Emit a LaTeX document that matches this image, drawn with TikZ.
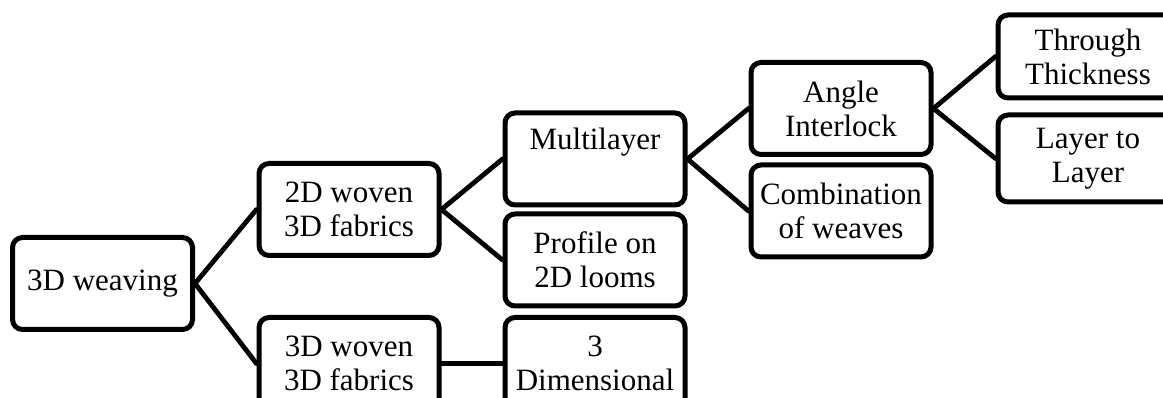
\documentclass[tikz,border=0pt]{standalone}
\usepackage{fontspec}
\setmainfont{Liberation Serif}
\begin{document}
\begin{tikzpicture}[x=1pt,y=-1pt,
  box/.style={draw=black, line width=5pt, rounded corners=10pt, fill=white,
    align=center, inner sep=0pt, minimum width=180pt, minimum height=92pt,
    font=\fontsize{31}{34}\selectfont},
  link/.style={line width=4.8pt, line cap=round}]
\useasboundingbox (0,0) rectangle (1163,398);
\clip (0,0) rectangle (1163,398);
\node[box] (weave) at (102.5,283.5) {3D weaving};
\node[box] (w2d) at (349,209.5) {2D woven\\3D fabrics};
\node[box] (w3d) at (349,363.5) {3D woven\\3D fabrics};
\node[box] (multi) at (595,159) {Multilayer\\[-4pt]\strut};
\node[box] (profile) at (595,260) {Profile on\\2D looms};
\node[box] (dim3) at (595,363.5) {3\\Dimensional};
\node[box] (angle) at (841,108.5) {Angle\\Interlock};
\node[box] (comb) at (841,211) {Combination\\of weaves};
\node[box, minimum height=83pt] (through) at (1088,56.5) {Through\\Thickness};
\node[box, minimum height=87pt] (layer) at (1088,158.5) {Layer to\\Layer};
\draw[link] (weave.east) -- (w2d.west);
\draw[link] (weave.east) -- (w3d.west);
\draw[link] (w2d.east) -- (multi.west);
\draw[link] (w2d.east) -- (profile.west);
\draw[link] (w3d.east) -- (dim3.west);
\draw[link] (multi.east) -- (angle.west);
\draw[link] (multi.east) -- (comb.west);
\draw[link] (angle.east) -- (through.west);
\draw[link] (angle.east) -- (layer.west);
\end{tikzpicture}
\end{document}
